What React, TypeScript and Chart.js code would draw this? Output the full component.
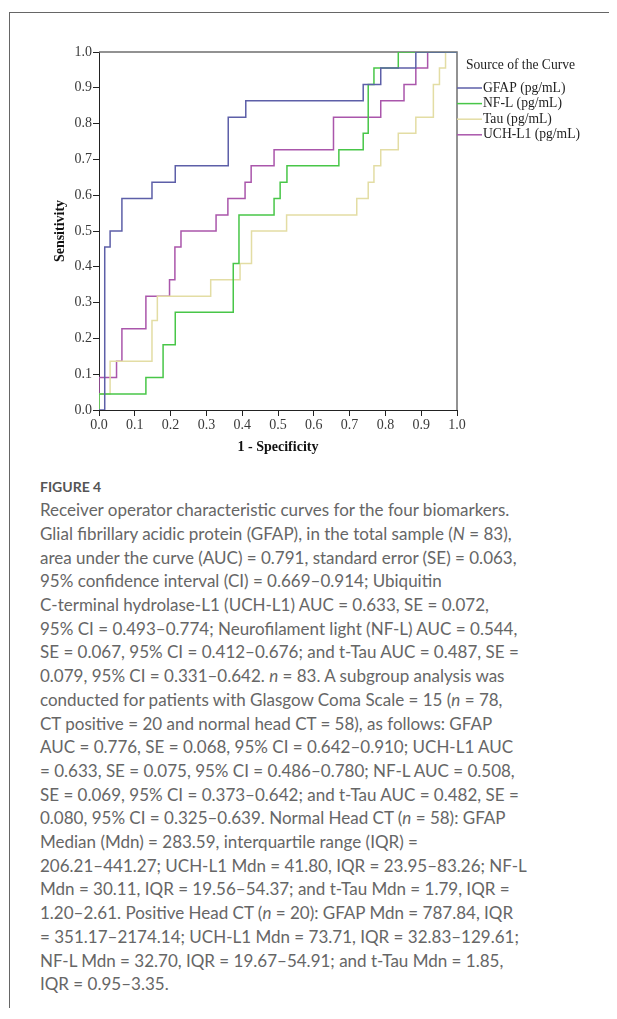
import React, { useEffect, useRef } from "react";
import { Chart, registerables } from "chart.js";
Chart.register(...registerables);

// ---- data (1 - specificity, sensitivity) ----
const seriesNames = ["GFAP (pg/mL)", "NF-L (pg/mL)", "Tau (pg/mL)", "UCH-L1 (pg/mL)"];
const seriesColors = ["#5d5fa8", "#48c648", "#e3dda4", "#aa56ab"];

const gfapFpr = [0, 0.016, 0.031, 0.064, 0.148, 0.213, 0.361, 0.41, 0.738, 0.787, 0.885, 1.0];
const gfapTpr = [0, 0.455, 0.5, 0.591, 0.636, 0.682, 0.818, 0.864, 0.909, 0.955, 1.0, 1.0];

const nflFpr = [0, 0, 0.131, 0.179, 0.213, 0.375, 0.391, 0.489, 0.506, 0.525, 0.67, 0.738, 0.752, 0.768, 0.836, 1.0];
const nflTpr = [0, 0.045, 0.091, 0.182, 0.273, 0.409, 0.545, 0.591, 0.636, 0.682, 0.727, 0.773, 0.909, 0.955, 1.0, 1.0];

const tauFpr = [0, 0, 0.031, 0.148, 0.163, 0.312, 0.394, 0.426, 0.524, 0.72, 0.752, 0.768, 0.787, 0.836, 0.885, 0.934, 0.951, 0.968, 1.0];
const tauTpr = [0, 0.045, 0.136, 0.25, 0.318, 0.364, 0.409, 0.5, 0.545, 0.591, 0.636, 0.682, 0.727, 0.773, 0.818, 0.909, 0.955, 1.0, 1.0];

const uchFpr = [0, 0, 0.049, 0.064, 0.131, 0.197, 0.212, 0.229, 0.327, 0.36, 0.408, 0.425, 0.489, 0.655, 0.787, 0.852, 0.885, 0.918, 1.0];
const uchTpr = [0, 0.091, 0.136, 0.227, 0.318, 0.364, 0.455, 0.5, 0.545, 0.591, 0.636, 0.682, 0.727, 0.818, 0.864, 0.909, 0.955, 1.0, 1.0];

const axisMin = 0;
const axisMax = 1;
const axisStep = 0.1;
const xTitle = "1 - Specificity";
const yTitle = "Sensitivity";
const legendTitle = "Source of the Curve";

const figureLabel = "FIGURE 4";
const captionLines: React.ReactNode[] = [
  "Receiver operator characteristic curves for the four biomarkers.",
  <>Glial fibrillary acidic protein (GFAP), in the total sample (<i>N</i> = 83),</>,
  "area under the curve (AUC) = 0.791, standard error (SE) = 0.063,",
  "95% confidence interval (CI) = 0.669–0.914; Ubiquitin",
  "C-terminal hydrolase-L1 (UCH-L1) AUC = 0.633, SE = 0.072,",
  "95% CI = 0.493–0.774; Neurofilament light (NF-L) AUC = 0.544,",
  "SE = 0.067, 95% CI = 0.412–0.676; and t-Tau AUC = 0.487, SE =",
  <>0.079, 95% CI = 0.331–0.642. <i>n</i> = 83. A subgroup analysis was</>,
  <>conducted for patients with Glasgow Coma Scale = 15 (<i>n</i> = 78,</>,
  "CT positive = 20 and normal head CT = 58), as follows: GFAP",
  "AUC = 0.776, SE = 0.068, 95% CI = 0.642–0.910; UCH-L1 AUC",
  "= 0.633, SE = 0.075, 95% CI = 0.486–0.780; NF-L AUC = 0.508,",
  "SE = 0.069, 95% CI = 0.373–0.642; and t-Tau AUC = 0.482, SE =",
  <>0.080, 95% CI = 0.325–0.639. Normal Head CT (<i>n</i> = 58): GFAP</>,
  "Median (Mdn) = 283.59, interquartile range (IQR) =",
  "206.21–441.27; UCH-L1 Mdn = 41.80, IQR = 23.95–83.26; NF-L",
  "Mdn = 30.11, IQR = 19.56–54.37; and t-Tau Mdn = 1.79, IQR =",
  <>1.20–2.61. Positive Head CT (<i>n</i> = 20): GFAP Mdn = 787.84, IQR</>,
  "= 351.17–2174.14; UCH-L1 Mdn = 73.71, IQR = 32.83–129.61;",
  "NF-L Mdn = 32.70, IQR = 19.67–54.91; and t-Tau Mdn = 1.85,",
  "IQR = 0.95–3.35.",
];

const SERIF = "'Liberation Serif', 'Times New Roman', serif";

function toPoints(xs: number[], ys: number[]) {
  return xs.map((x, i) => ({ x, y: ys[i] }));
}

const frameAndLegend = {
  id: "frameAndLegend",
  beforeDatasetsDraw(chart: any) {
    const { ctx, chartArea } = chart;
    ctx.save();
    ctx.strokeStyle = "#6f6f6f";
    ctx.lineWidth = 1.5;
    ctx.beginPath();
    ctx.moveTo(chartArea.left, chartArea.top);
    ctx.lineTo(chartArea.right, chartArea.top);
    ctx.lineTo(chartArea.right, chartArea.bottom);
    ctx.stroke();
    ctx.restore();
  },
  afterDraw(chart: any) {
    const { ctx, chartArea } = chart;
    ctx.save();
    ctx.font = `13.6px ${SERIF}`;
    ctx.fillStyle = "#222";
    ctx.textBaseline = "middle";
    ctx.textAlign = "left";
    const x0 = chartArea.right;
    ctx.fillText(legendTitle, x0 + 9, chartArea.top + 13);
    chart.data.datasets.forEach((ds: any, i: number) => {
      const y = chartArea.top + 36 + i * 15.6;
      ctx.strokeStyle = ds.borderColor;
      ctx.lineWidth = 1.5;
      ctx.beginPath();
      ctx.moveTo(x0, y);
      ctx.lineTo(x0 + 25, y);
      ctx.stroke();
      ctx.fillStyle = "#222";
      ctx.fillText(ds.label, x0 + 26, y);
    });
    ctx.restore();
  },
};

function RocChart() {
  const ref = useRef<HTMLCanvasElement | null>(null);
  useEffect(() => {
    if (!ref.current) return;
    const series = [
      toPoints(gfapFpr, gfapTpr),
      toPoints(nflFpr, nflTpr),
      toPoints(tauFpr, tauTpr),
      toPoints(uchFpr, uchTpr),
    ];
    const tickFont = { family: SERIF, size: 14 };
    const titleFont = { family: SERIF, size: 14, weight: "bold" as const };
    const chart = new Chart(ref.current, {
      type: "scatter",
      data: {
        datasets: series.map((pts, i) => ({
          label: seriesNames[i],
          data: pts,
          showLine: true,
          stepped: "before" as const,
          borderColor: seriesColors[i],
          backgroundColor: seriesColors[i],
          borderWidth: 1.5,
          pointRadius: 0,
          fill: false,
        })),
      },
      options: {
        animation: false,
        responsive: false,
        maintainAspectRatio: false,
        layout: { padding: { left: 0, top: 39, right: 143, bottom: 0 } },
        plugins: { legend: { display: false }, tooltip: { enabled: false } },
        scales: {
          x: {
            type: "linear",
            min: axisMin,
            max: axisMax,
            afterFit: (s: any) => { s.height = 63; },
            ticks: {
              stepSize: axisStep,
              font: tickFont,
              color: "#3a3a3a",
              padding: 1,
              maxRotation: 0,
              callback: (v: any) => Number(v).toFixed(1),
            },
            grid: { drawOnChartArea: false, drawTicks: true, tickLength: 6, color: "#222" },
            border: { display: true, color: "#222", width: 1 },
            title: { display: true, text: xTitle, font: titleFont, color: "#111", padding: { top: 0, bottom: 17 } },
          },
          y: {
            type: "linear",
            min: axisMin,
            max: axisMax,
            afterFit: (s: any) => { s.width = 89; },
            ticks: {
              stepSize: axisStep,
              font: tickFont,
              color: "#3a3a3a",
              padding: 1,
              callback: (v: any) => Number(v).toFixed(1),
            },
            grid: { drawOnChartArea: false, drawTicks: true, tickLength: 6, color: "#222" },
            border: { display: true, color: "#222", width: 1 },
            title: { display: true, text: yTitle, font: titleFont, color: "#111", padding: { top: 42, bottom: 0 } },
          },
        },
      },
      plugins: [frameAndLegend],
    });
    return () => chart.destroy();
  }, []);
  return <canvas ref={ref} width={590} height={460} style={{ position: "absolute", left: 2, top: 5, width: 590, height: 460 }} />;
}

export default function App() {
  useEffect(() => {
    document.body.style.overflow = "hidden";
  }, []);
  return (
    <div style={{ position: "relative", height: 1000, background: "#fff" }}>
      <div
        style={{
          position: "absolute",
          left: 1,
          top: 4,
          width: 608,
          height: 1010,
          borderLeft: "1px solid #666",
          borderTop: "1px solid #666",
        }}
      />
      <RocChart />
      <div
        style={{
          position: "absolute",
          left: 32,
          top: 469,
          fontFamily: "Lato, 'Open Sans', sans-serif",
          fontSize: 14,
          fontWeight: 700,
          lineHeight: "20px",
          color: "#555",
          whiteSpace: "nowrap",
        }}
      >
        {figureLabel}
      </div>
      <div
        style={{
          position: "absolute",
          left: 32,
          top: 490.2,
          fontFamily: "Lato, 'Open Sans', sans-serif",
          fontSize: 17,
          lineHeight: "23.7px",
          color: "#666",
          whiteSpace: "nowrap",
        }}
      >
        {captionLines.map((l, i) => (
          <div key={i}>{l}</div>
        ))}
      </div>
    </div>
  );
}
